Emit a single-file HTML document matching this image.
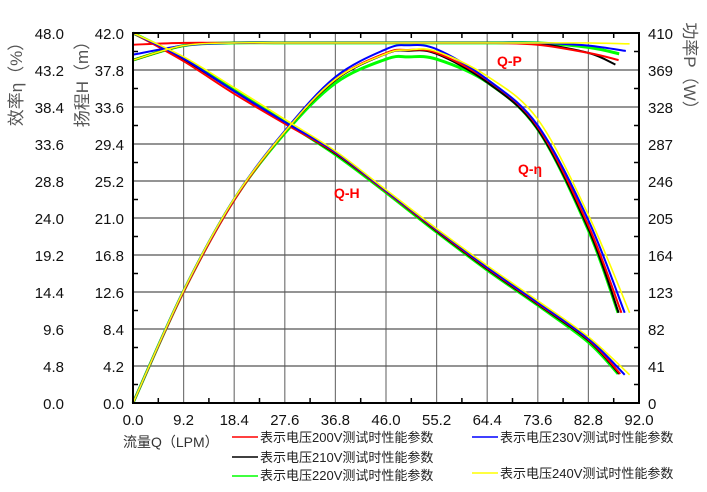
<!DOCTYPE html>
<html><head><meta charset="utf-8"><style>
body{margin:0;background:#fff;}
svg text{font-family:"Liberation Sans","Noto Sans CJK SC",sans-serif;}
</style></head><body>
<svg id="chart" width="707" height="487" xmlns="http://www.w3.org/2000/svg">
<g id="grid"></g>
<g id="series"></g>
<g id="axes"></g>
<text transform="translate(22,80) rotate(-90)" text-anchor="middle" font-size="17" fill="#555">效率η（%）</text>
<text transform="translate(88,80) rotate(-90)" text-anchor="middle" font-size="17" fill="#555">扬程H（m）</text>
<text transform="translate(684,70) rotate(90)" text-anchor="middle" font-size="17" fill="#555">功率P（W）</text>
<text x="123" y="447" font-size="14" fill="#333">流量Q（LPM）</text>
<text x="497" y="66" font-size="14" font-weight="bold" fill="#f00">Q-P</text>
<text x="518" y="174" font-size="14" font-weight="bold" fill="#f00">Q-η</text>
<text x="334" y="198" font-size="14" font-weight="bold" fill="#f00">Q-H</text>
<g font-size="13" fill="#222">
 <g><line x1="232" y1="437" x2="258" y2="437" stroke="#f00" stroke-width="1.5"/><text x="260" y="442">表示电压200V测试时性能参数</text></g>
 <g><line x1="232" y1="457" x2="258" y2="457" stroke="#000" stroke-width="1.5"/><text x="260" y="462">表示电压210V测试时性能参数</text></g>
 <g><line x1="232" y1="476" x2="258" y2="476" stroke="#0f0" stroke-width="1.5"/><text x="260" y="480">表示电压220V测试时性能参数</text></g>
 <g><line x1="472" y1="437" x2="498" y2="437" stroke="#00f" stroke-width="1.5"/><text x="500" y="442">表示电压230V测试时性能参数</text></g>
 <g><line x1="472" y1="473" x2="498" y2="473" stroke="#ff0" stroke-width="1.5"/><text x="500" y="478">表示电压240V测试时性能参数</text></g>
</g>
</svg>
<script>
const xTicks=["0.0","9.2","18.4","27.6","36.8","46.0","55.2","64.4","73.6","82.8","92.0"];
const hTicks=["0.0","4.2","8.4","12.6","16.8","21.0","25.2","29.4","33.6","37.8","42.0"];
const etaTicks=["0.0","4.8","9.6","14.4","19.2","24.0","28.8","33.6","38.4","43.2","48.0"];
const pTicks=["0","41","82","123","164","205","246","287","328","369","410"];
const seriesNames=["220v","210v","200v","230v","240v"];
const seriesColors=["#0f0","#000","#f00","#00f","#ff0"];
// Q-H
const qH=[[0,9.2,18.4,27.6,36.8,46,55.2,64.4,73.6,82.8,88.2],[0,9.2,18.4,27.6,36.8,46,55.2,64.4,73.6,82.8,88.4],[0,9.2,18.4,27.6,36.8,46,55.2,64.4,73.6,82.8,88.6],[0,9.2,18.4,27.6,36.8,46,55.2,64.4,73.6,82.8,89.4],[0,9.2,18.4,27.6,36.8,46,55.2,64.4,73.6,82.8,90.3]];
const hVals=[[42,39.1,35.5,31.9,28.2,23.9,19.4,15.1,11.1,6.9,3.3],[42,39.0,35.4,31.8,28.3,24.0,19.5,15.2,11.2,7.1,3.3],[42,38.8,35.1,31.7,28.4,24.0,19.6,15.3,11.3,7.2,3.3],[42,39.1,35.4,31.9,28.5,24.1,19.7,15.4,11.4,7.3,3.2],[42,39.3,35.8,32.2,28.6,24.2,19.8,15.6,11.6,7.5,3.2]];
// Q-eta
const qEta=[[0,9.2,18.4,27.6,36.8,46,50,55.2,64.4,73.6,82.8,88.2],[0,9.2,18.4,27.6,36.8,46,50,55.2,64.4,73.6,82.8,88.3],[0,9.2,18.4,27.6,36.8,46,50,55.2,64.4,73.6,82.8,88.8],[0,9.2,18.4,27.6,36.8,46,50,55.2,64.4,73.6,82.8,89.4],[0,9.2,18.4,27.6,36.8,46,50,55.2,64.4,73.6,82.8,90.3]];
const etaVals=[[0,14.5,26.4,35.0,41.5,44.6,44.9,44.6,41.6,35.5,22.4,11.7],[0,14.5,26.4,35.2,41.9,45.3,45.7,45.3,41.6,35.5,22.6,11.7],[0,14.4,26.3,35.2,42.0,45.4,45.8,45.4,41.9,35.8,23.0,11.7],[0,14.6,26.5,35.3,42.3,45.9,46.4,45.9,42.0,36.0,23.7,11.7],[0,14.6,26.5,35.2,42.0,45.3,45.8,45.6,42.4,36.8,24.4,11.7]];
// Q-P
const qP=[[0,9.2,18.4,27.6,46,64.4,73.6,82.8,88.4],[0,9.2,18.4,27.6,46,64.4,73.6,82.8,87.7],[0,9.2,18.4,27.6,46,64.4,73.6,82.8,88.3],[0,9.2,18.4,27.6,46,64.4,73.6,82.8,89.6],[0,9.2,18.4,27.6,46,64.4,73.6,82.8,90.3]];
const pVals=[[380,396,399,399,399,399,399,394,387],[380,396,399,399,399,399,398,388,375],[397,399,399,399,399,399,397,388,380],[386,396,399,399,399,399,399,396,390],[380,396,399,399,399,399,399,399,398]];

const L=133,R=639,T=33,B=403;
const xS=q=>L+(q/92)*(R-L);
const hS=v=>B-(v/42)*(B-T);
const eS=v=>B-(v/48)*(B-T);
const pS=v=>B-(v/410)*(B-T);
const NS="http://www.w3.org/2000/svg";
function mk(tag,attrs,parent){const e=document.createElementNS(NS,tag);for(const k in attrs)e.setAttribute(k,attrs[k]);parent.appendChild(e);return e;}
const grid=document.getElementById('grid'),axes=document.getElementById('axes'),ser=document.getElementById('series');
for(let i=1;i<10;i++){
 const gx=mk('line',{x1:L+i*(R-L)/10,x2:L+i*(R-L)/10,y1:T,y2:B,stroke:'#777','stroke-width':1.2},grid);
 
 
 const gy=mk('line',{x1:L,x2:R,y1:T+i*(B-T)/10,y2:T+i*(B-T)/10,stroke:'#555','stroke-width':1.2},grid);
 
 
}
for(let i=0;i<10;i++){
 const x=L+(i+0.5)*(R-L)/10, y=T+(i+0.5)*(B-T)/10;
 mk('line',{x1:x,x2:x,y1:T,y2:T+5,stroke:'#000','stroke-width':1.5},axes);
 mk('line',{x1:x,x2:x,y1:B,y2:B-5,stroke:'#000','stroke-width':1.5},axes);
 mk('line',{x1:L,x2:L+5,y1:y,y2:y,stroke:'#000','stroke-width':1.5},axes);
 mk('line',{x1:R,x2:R-5,y1:y,y2:y,stroke:'#000','stroke-width':1.5},axes);
}
const frame=mk('rect',{x:L,y:T,width:R-L,height:B-T,fill:'none',stroke:'#000','stroke-width':2},axes);


function label(txt,x,y,anchor,name){const t=mk('text',{x:x,y:y,'text-anchor':anchor,'font-size':15,fill:'#111'},axes);t.textContent=txt;
 
 }
xTicks.forEach((t,i)=>label(t,L+i*(R-L)/10,425,'middle','x-tick-label'));
hTicks.forEach((t,i)=>label(t,124,B-i*(B-T)/10+6,'end','h-tick-label'));
etaTicks.forEach((t,i)=>label(t,64,B-i*(B-T)/10+6,'end','eta-tick-label'));
pTicks.forEach((t,i)=>label(t,648,B-i*(B-T)/10+6,'start','p-tick-label'));
function smooth(p){
 let d='M'+p[0][0].toFixed(1)+','+p[0][1].toFixed(1);
 for(let i=0;i<p.length-1;i++){
  const p0=p[Math.max(0,i-1)],p1=p[i],p2=p[i+1],p3=p[Math.min(p.length-1,i+2)];
  const c1=[p1[0]+(p2[0]-p0[0])/6,p1[1]+(p2[1]-p0[1])/6];
  const c2=[p2[0]-(p3[0]-p1[0])/6,p2[1]-(p3[1]-p1[1])/6];
  d+=' C'+c1.map(v=>v.toFixed(1)).join(',')+' '+c2.map(v=>v.toFixed(1)).join(',')+' '+p2[0].toFixed(1)+','+p2[1].toFixed(1);
 }
 return d;
}
function line(qs,vs,yS,color,name){
 const pts=qs.map((q,i)=>[xS(q),yS(vs[i])]);
 const pl=mk('path',{d:smooth(pts),fill:'none',stroke:color,'stroke-width':color==='#0f0'?3:(color==='#ff0'?1.6:2),'stroke-linejoin':'round'},ser);
 
 
}
seriesNames.forEach((n,s)=>{
 line(qH[s],hVals[s],hS,seriesColors[s],'q-h-curve-'+n);
 line(qEta[s],etaVals[s],eS,seriesColors[s],'q-eta-curve-'+n);
 line(qP[s],pVals[s],pS,seriesColors[s],'q-p-curve-'+n);
});
</script>
</body></html>
